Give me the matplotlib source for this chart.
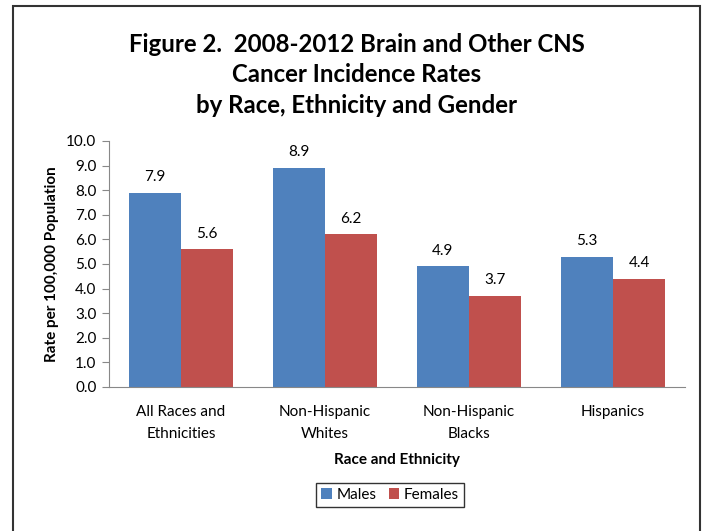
import matplotlib.pyplot as plt
import numpy as np
from matplotlib.patches import Rectangle

groups = ["All Races and\nEthnicities", "Non-Hispanic\nWhites", "Non-Hispanic\nBlacks", "Hispanics"]
males = [7.9, 8.9, 4.9, 5.3]
females = [5.6, 6.2, 3.7, 4.4]
yticks = np.arange(0, 10.5, 1.0)

plt.rcParams['font.family'] = ['Lato', 'DejaVu Sans']

fig = plt.figure(figsize=(7.04, 5.31), dpi=100)
fig.patches.append(Rectangle((13 / 704, -0.05), (700 - 13) / 704, 1.05 - 6 / 531,
                             transform=fig.transFigure, fill=False,
                             edgecolor="#333333", linewidth=1.5))

ax = fig.add_axes([109 / 704, 1 - 387 / 531, (685 - 109) / 704, (387 - 141) / 531])

x = np.arange(len(groups))
w = 0.364
b1 = ax.bar(x - w / 2, males, w, color="#4F81BD", label="Males")
b2 = ax.bar(x + w / 2, females, w, color="#C0504D", label="Females")
for bars, vals in ((b1, males), (b2, females)):
    for r, v in zip(bars, vals):
        ax.text(r.get_x() + r.get_width() / 2, v + 0.35, f"{v:.1f}",
                ha="center", va="bottom", fontsize=11)

ax.set_xlim(-0.5, len(groups) - 0.5)
ax.set_ylim(0, 10)
ax.set_yticks(yticks)
ax.set_yticklabels([f"{t:.1f}" for t in yticks], fontsize=11)
ax.set_xticks(x)
ax.set_xticklabels(groups, fontsize=11, linespacing=1.7)
ax.tick_params(axis="x", length=0, pad=13)
ax.tick_params(axis="y", length=5, color="#888888", pad=4)
for s in ("top", "right"):
    ax.spines[s].set_visible(False)
for s in ("left", "bottom"):
    ax.spines[s].set_color("#888888")

ax.set_ylabel("Rate per 100,000 Population", fontsize=11, fontweight="bold", labelpad=5)
ax.set_xlabel("Race and Ethnicity", fontsize=11, fontweight="bold", labelpad=9)

fig.text(0.507, 1 - 75 / 531,
         "Figure 2.  2008-2012 Brain and Other CNS\nCancer Incidence Rates\nby Race, Ethnicity and Gender",
         ha="center", va="center", fontsize=17.3, fontweight="bold", linespacing=1.42)

leg = fig.legend(loc="center", bbox_to_anchor=(390 / 704, 1 - 495 / 531), ncol=2,
                 fontsize=11, frameon=True, fancybox=False, edgecolor="black",
                 handlelength=0.7, handleheight=0.7, handletextpad=0.3,
                 columnspacing=0.8, borderpad=0.35)
leg.get_frame().set_linewidth(1.0)

fig.savefig("out.png", dpi=100)
